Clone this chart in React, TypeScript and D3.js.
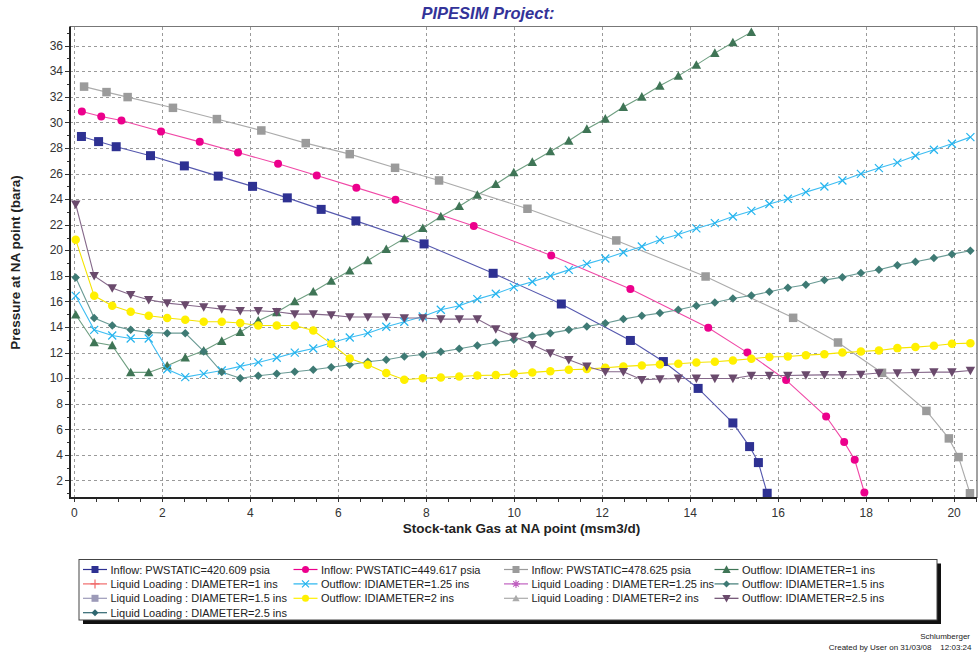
import React from 'react';
import * as d3 from 'd3';

const W = 979;
const H = 655;

const X_DOMAIN: [number, number] = [-0.1, 20.52];
const Y_DOMAIN: [number, number] = [0.63, 37.5];
const X_TICKS = [0, 2, 4, 6, 8, 10, 12, 14, 16, 18, 20];
const Y_TICKS = [2, 4, 6, 8, 10, 12, 14, 16, 18, 20, 22, 24, 26, 28, 30, 32, 34, 36];

const TITLE = 'PIPESIM Project:';
const X_LABEL = 'Stock-tank Gas at NA point (msm3/d)';
const Y_LABEL = 'Pressure at NA point (bara)';
const FOOTER1 = 'Schlumberger';
const FOOTER2 = 'Created by User on 31/03/08    12:03:24';

// Inflow curves
const inflow420X = [0.16, 0.55, 0.95, 1.73, 2.5, 3.27, 4.05, 4.84, 5.61, 6.4, 7.95, 9.52, 11.07, 12.64, 13.39, 14.18, 14.97, 15.35, 15.55, 15.75];
const inflow420Y = [28.9, 28.5, 28.1, 27.4, 26.6, 25.8, 25.0, 24.1, 23.2, 22.3, 20.5, 18.2, 15.8, 12.95, 11.3, 9.2, 6.5, 4.65, 3.4, 1.0];

const inflow449X = [0.17, 0.61, 1.07, 1.97, 2.85, 3.72, 4.63, 5.51, 6.41, 7.3, 9.08, 10.84, 12.64, 14.41, 15.3, 16.18, 17.09, 17.5, 17.74, 17.96];
const inflow449Y = [30.85, 30.46, 30.15, 29.29, 28.48, 27.65, 26.76, 25.85, 24.9, 23.95, 21.9, 19.6, 16.97, 13.94, 12.0, 9.85, 7.0, 5.0, 3.62, 1.06];

const inflow478X = [0.22, 0.73, 1.21, 2.24, 3.24, 4.25, 5.26, 6.26, 7.29, 8.29, 10.3, 12.32, 14.35, 16.34, 17.36, 18.36, 19.37, 19.88, 20.1, 20.36];
const inflow478Y = [32.8, 32.37, 31.98, 31.14, 30.26, 29.37, 28.38, 27.52, 26.45, 25.46, 23.25, 20.77, 17.95, 14.72, 12.79, 10.42, 7.44, 5.29, 3.83, 1.0];

// Outflow curves share the same gas-rate grid
const outflowX = [0.03, 0.45, 0.86, 1.28, 1.69, 2.11, 2.52, 2.94, 3.35, 3.77, 4.18, 4.6, 5.01, 5.43, 5.84, 6.26, 6.67, 7.09, 7.5, 7.92, 8.33, 8.75, 9.16, 9.58, 9.99, 10.41, 10.82, 11.24, 11.65, 12.07, 12.48, 12.9, 13.31, 13.73, 14.14, 14.56, 14.97, 15.39, 15.8, 16.22, 16.63, 17.05, 17.46, 17.88, 18.29, 18.71, 19.12, 19.54, 19.95, 20.37];

const outflow1Y = [14.96, 12.8, 12.56, 10.45, 10.45, 10.97, 11.6, 12.15, 12.9, 13.6, 14.5, 15.15, 16.0, 16.76, 17.6, 18.4, 19.2, 20.09, 20.92, 21.73, 22.64, 23.45, 24.32, 25.17, 26.08, 26.9, 27.73, 28.56, 29.48, 30.28, 31.2, 32.0, 32.86, 33.64, 34.5, 35.42, 36.25, 37.06];

const outflow125Y = [16.44, 13.78, 13.34, 13.1, 13.1, 10.7, 10.08, 10.34, 10.6, 10.92, 11.23, 11.6, 12.0, 12.32, 12.77, 13.18, 13.52, 14.02, 14.41, 14.82, 15.35, 15.66, 16.18, 16.6, 17.12, 17.54, 18.0, 18.47, 18.94, 19.36, 19.83, 20.3, 20.82, 21.24, 21.71, 22.13, 22.64, 23.08, 23.62, 24.03, 24.55, 24.99, 25.46, 25.98, 26.43, 26.86, 27.39, 27.86, 28.33, 28.85];

const outflow15Y = [17.88, 14.7, 14.12, 13.78, 13.57, 13.52, 13.52, 12.09, 10.48, 10.0, 10.19, 10.34, 10.5, 10.66, 10.85, 11.05, 11.28, 11.44, 11.7, 11.85, 12.06, 12.3, 12.56, 12.79, 13.0, 13.31, 13.52, 13.78, 14.04, 14.3, 14.62, 14.88, 15.09, 15.35, 15.66, 15.92, 16.23, 16.47, 16.76, 17.07, 17.3, 17.67, 17.9, 18.22, 18.48, 18.84, 19.1, 19.39, 19.7, 19.96];

const outflow2Y = [20.82, 16.44, 15.66, 15.19, 14.88, 14.7, 14.57, 14.41, 14.41, 14.31, 14.12, 14.12, 14.12, 13.73, 12.68, 11.54, 11.05, 10.4, 9.88, 10.0, 10.06, 10.13, 10.21, 10.24, 10.34, 10.45, 10.55, 10.66, 10.71, 10.81, 10.92, 11.0, 11.07, 11.13, 11.23, 11.28, 11.39, 11.52, 11.65, 11.7, 11.8, 11.88, 12.0, 12.09, 12.17, 12.35, 12.43, 12.53, 12.69, 12.74];

const outflow25Y = [23.6, 18.0, 17.05, 16.52, 16.13, 15.87, 15.72, 15.56, 15.4, 15.27, 15.27, 15.19, 15.01, 15.01, 14.93, 14.78, 14.78, 14.78, 14.7, 14.7, 14.62, 14.62, 14.62, 13.84, 13.26, 12.61, 11.96, 11.44, 10.92, 10.5, 10.5, 9.88, 9.93, 9.98, 9.98, 9.98, 9.98, 10.21, 10.21, 10.21, 10.24, 10.26, 10.26, 10.29, 10.4, 10.4, 10.44, 10.47, 10.47, 10.6];

type Shape = 'square' | 'circle' | 'triUp' | 'triDown' | 'cross' | 'diamond' | 'plus' | 'star';

interface Series {
  name: string;
  xs: number[];
  ys: number[];
  color: string;
  line: string;
  shape: Shape;
  size: number;
}

const seriesList: Series[] = [
  { name: 'Inflow: PWSTATIC=420.609 psia', xs: inflow420X, ys: inflow420Y, color: '#2E3192', line: '#5558AE', shape: 'square', size: 9 },
  { name: 'Inflow: PWSTATIC=449.617 psia', xs: inflow449X, ys: inflow449Y, color: '#EC008C', line: '#F048A6', shape: 'circle', size: 8 },
  { name: 'Inflow: PWSTATIC=478.625 psia', xs: inflow478X, ys: inflow478Y, color: '#9B9B9B', line: '#ABABAB', shape: 'square', size: 8.5 },
  { name: 'Outflow: IDIAMETER=1 ins', xs: outflowX.slice(0, outflow1Y.length), ys: outflow1Y, color: '#3F7556', line: '#6E9E80', shape: 'triUp', size: 9 },
  { name: 'Outflow: IDIAMETER=1.25 ins', xs: outflowX, ys: outflow125Y, color: '#24B4EE', line: '#3DBDF2', shape: 'cross', size: 8 },
  { name: 'Outflow: IDIAMETER=1.5 ins', xs: outflowX, ys: outflow15Y, color: '#3E7A74', line: '#6A9A94', shape: 'diamond', size: 8.5 },
  { name: 'Outflow: IDIAMETER=2 ins', xs: outflowX, ys: outflow2Y, color: '#FFF000', line: '#F5E400', shape: 'circle', size: 8.5 },
  { name: 'Outflow: IDIAMETER=2.5 ins', xs: outflowX, ys: outflow25Y, color: '#6A4A6C', line: '#85688A', shape: 'triDown', size: 9 },
];

interface LegendItem { label: string; color: string; line: string; shape: Shape; size: number }

const legendItems: LegendItem[] = [
  { label: 'Inflow: PWSTATIC=420.609 psia', color: '#2E3192', line: '#2E3192', shape: 'square', size: 7 },
  { label: 'Inflow: PWSTATIC=449.617 psia', color: '#EC008C', line: '#EC008C', shape: 'circle', size: 7 },
  { label: 'Inflow: PWSTATIC=478.625 psia', color: '#9B9B9B', line: '#9B9B9B', shape: 'square', size: 7 },
  { label: 'Outflow: IDIAMETER=1 ins', color: '#3F7556', line: '#3F7556', shape: 'triUp', size: 8 },
  { label: 'Liquid Loading : DIAMETER=1 ins', color: '#F06A6A', line: '#F06A6A', shape: 'plus', size: 9 },
  { label: 'Outflow: IDIAMETER=1.25 ins', color: '#24B4EE', line: '#24B4EE', shape: 'cross', size: 7 },
  { label: 'Liquid Loading : DIAMETER=1.25 ins', color: '#C060C0', line: '#C060C0', shape: 'star', size: 8 },
  { label: 'Outflow: IDIAMETER=1.5 ins', color: '#3E7A74', line: '#3E7A74', shape: 'diamond', size: 7 },
  { label: 'Liquid Loading : DIAMETER=1.5 ins', color: '#9C9AB8', line: '#9C9AB8', shape: 'square', size: 7 },
  { label: 'Outflow: IDIAMETER=2 ins', color: '#FFF000', line: '#FFF000', shape: 'circle', size: 7 },
  { label: 'Liquid Loading : DIAMETER=2 ins', color: '#ABABAB', line: '#ABABAB', shape: 'triUp', size: 7 },
  { label: 'Outflow: IDIAMETER=2.5 ins', color: '#6A4A6C', line: '#6A4A6C', shape: 'triDown', size: 8 },
  { label: 'Liquid Loading : DIAMETER=2.5 ins', color: '#2F6670', line: '#2F6670', shape: 'diamond', size: 7 },
];

const PLOT = { left: 70, right: 977, top: 26.5, bottom: 498 };

function Marker({ shape, x, y, color, s }: { shape: Shape; x: number; y: number; color: string; s: number }) {
  const h = s / 2;
  switch (shape) {
    case 'square':
      return <rect x={x - h} y={y - h} width={s} height={s} fill={color} />;
    case 'circle':
      return <circle cx={x} cy={y} r={h} fill={color} />;
    case 'triUp':
      return <path d={`M${x},${y - h * 1.05}L${x + h * 1.05},${y + h * 0.85}L${x - h * 1.05},${y + h * 0.85}Z`} fill={color} />;
    case 'triDown':
      return <path d={`M${x},${y + h * 1.05}L${x + h * 1.05},${y - h * 0.85}L${x - h * 1.05},${y - h * 0.85}Z`} fill={color} />;
    case 'diamond':
      return <path d={`M${x},${y - h}L${x + h},${y}L${x},${y + h}L${x - h},${y}Z`} fill={color} />;
    case 'cross':
      return <path d={`M${x - h},${y - h}L${x + h},${y + h}M${x - h},${y + h}L${x + h},${y - h}`} stroke={color} strokeWidth={1.2} fill="none" />;
    case 'plus':
      return <path d={`M${x - h},${y}L${x + h},${y}M${x},${y - h}L${x},${y + h}`} stroke={color} strokeWidth={1.2} fill="none" />;
    case 'star':
      return <path d={`M${x - h},${y}L${x + h},${y}M${x},${y - h}L${x},${y + h}M${x - h * 0.7},${y - h * 0.7}L${x + h * 0.7},${y + h * 0.7}M${x - h * 0.7},${y + h * 0.7}L${x + h * 0.7},${y - h * 0.7}`} stroke={color} strokeWidth={1.1} fill="none" />;
    default:
      return null;
  }
}

export default function App() {
  const x = d3.scaleLinear().domain(X_DOMAIN).range([PLOT.left, PLOT.right]);
  const y = d3.scaleLinear().domain(Y_DOMAIN).range([PLOT.bottom, PLOT.top]);

  const xMinor = d3.range(0, 20.51, 0.5);
  const yMinor = d3.range(1, 37.01, 1);

  const line = d3.line<[number, number]>().x((d) => x(d[0])).y((d) => y(d[1]));

  const font = 'Arial, "Liberation Sans", Helvetica, sans-serif';

  const legend = { left: 79, top: 559.5, right: 937, bottom: 620, colStart: 83, colW: 210.5, rowStart: 569.5, rowH: 14.4 };

  return (
    <svg width={W} height={H} style={{ position: 'absolute', left: 0, top: 0, background: '#fff' }} fontFamily={font}>
      <rect x={0} y={0} width={W} height={H} fill="#fff" />
      {/* Title */}
      <text x={488} y={18.5} textAnchor="middle" fontSize={16.5} fontWeight="bold" fontStyle="italic" fill="#333399">{TITLE}</text>

      {/* grid */}
      <g stroke="#9a9a9a" strokeWidth={1} strokeDasharray="3,3" shapeRendering="crispEdges">
        {X_TICKS.map((t) => (
          <line key={'gx' + t} x1={Math.round(x(t)) + 0.5} x2={Math.round(x(t)) + 0.5} y1={PLOT.top} y2={PLOT.bottom} />
        ))}
        {Y_TICKS.map((t) => (
          <line key={'gy' + t} x1={PLOT.left} x2={PLOT.right} y1={Math.round(y(t)) + 0.5} y2={Math.round(y(t)) + 0.5} />
        ))}
      </g>

      {/* frame */}
      <line x1={PLOT.left} x2={PLOT.right} y1={PLOT.top} y2={PLOT.top} stroke="#777" strokeWidth={1} />
      <line x1={PLOT.right} x2={PLOT.right} y1={PLOT.top} y2={PLOT.bottom} stroke="#444" strokeWidth={1} />

      {/* series lines */}
      {seriesList.map((s) => (
        <path key={'l' + s.name} d={line(s.xs.map((v, i) => [v, s.ys[i]] as [number, number])) || ''} fill="none" stroke={s.line} strokeWidth={1.1} />
      ))}
      {/* series markers */}
      {seriesList.map((s) => (
        <g key={'m' + s.name}>
          {s.xs.map((v, i) => (
            <Marker key={i} shape={s.shape} x={x(v)} y={y(s.ys[i])} color={s.color} s={s.size} />
          ))}
        </g>
      ))}

      {/* axes */}
      <line x1={PLOT.left} x2={PLOT.left} y1={PLOT.top} y2={PLOT.bottom + 1} stroke="#222" strokeWidth={2} />
      <line x1={PLOT.left - 1} x2={PLOT.right} y1={PLOT.bottom} y2={PLOT.bottom} stroke="#222" strokeWidth={2} />

      {/* x ticks */}
      <g stroke="#333" strokeWidth={1}>
        {xMinor.map((t) => (
          <line key={'xt' + t} x1={Math.round(x(t)) + 0.5} x2={Math.round(x(t)) + 0.5} y1={PLOT.bottom + 1} y2={PLOT.bottom + 4} />
        ))}
        {yMinor.map((t) => (
          <line key={'yt' + t} x1={PLOT.left - (t % 2 === 0 ? 5 : 3)} x2={PLOT.left - 1} y1={Math.round(y(t)) + 0.5} y2={Math.round(y(t)) + 0.5} />
        ))}
      </g>
      <g fontSize={12} fill="#333">
        {X_TICKS.map((t) => (
          <text key={'xl' + t} x={x(t)} y={516.5} textAnchor="middle">{t}</text>
        ))}
        {Y_TICKS.map((t) => (
          <text key={'yl' + t} x={63} y={y(t) + 4.2} textAnchor="end">{t}</text>
        ))}
      </g>

      {/* axis labels */}
      <text x={521.5} y={533} textAnchor="middle" fontSize={13.5} fontWeight="bold" fill="#222">{X_LABEL}</text>
      <text transform={`translate(19.5,262.5) rotate(-90)`} textAnchor="middle" fontSize={13.5} fontWeight="bold" fill="#222">{Y_LABEL}</text>

      {/* legend */}
      <rect x={legend.left + 4} y={legend.top + 4} width={legend.right - legend.left} height={legend.bottom - legend.top} fill="#111" />
      <rect x={legend.left} y={legend.top} width={legend.right - legend.left} height={legend.bottom - legend.top} fill="#fff" stroke="#444" strokeWidth={1} />
      {legendItems.map((it, i) => {
        const col = i % 4;
        const row = Math.floor(i / 4);
        const lx = legend.colStart + col * legend.colW;
        const ly = legend.rowStart + row * legend.rowH;
        return (
          <g key={'lg' + i}>
            <line x1={lx} x2={lx + 24} y1={ly} y2={ly} stroke={it.line} strokeWidth={1.2} />
            <Marker shape={it.shape} x={lx + 12} y={ly} color={it.color} s={it.size} />
            <text x={lx + 27.5} y={ly + 4} fontSize={11} fill="#222">{it.label}</text>
          </g>
        );
      })}

      {/* footer */}
      <text x={970} y={639} textAnchor="end" fontSize={8} fill="#222">{FOOTER1}</text>
      <text x={971.5} y={649.5} textAnchor="end" fontSize={8} fill="#222" style={{ whiteSpace: 'pre' }}>{FOOTER2}</text>
    </svg>
  );
}
